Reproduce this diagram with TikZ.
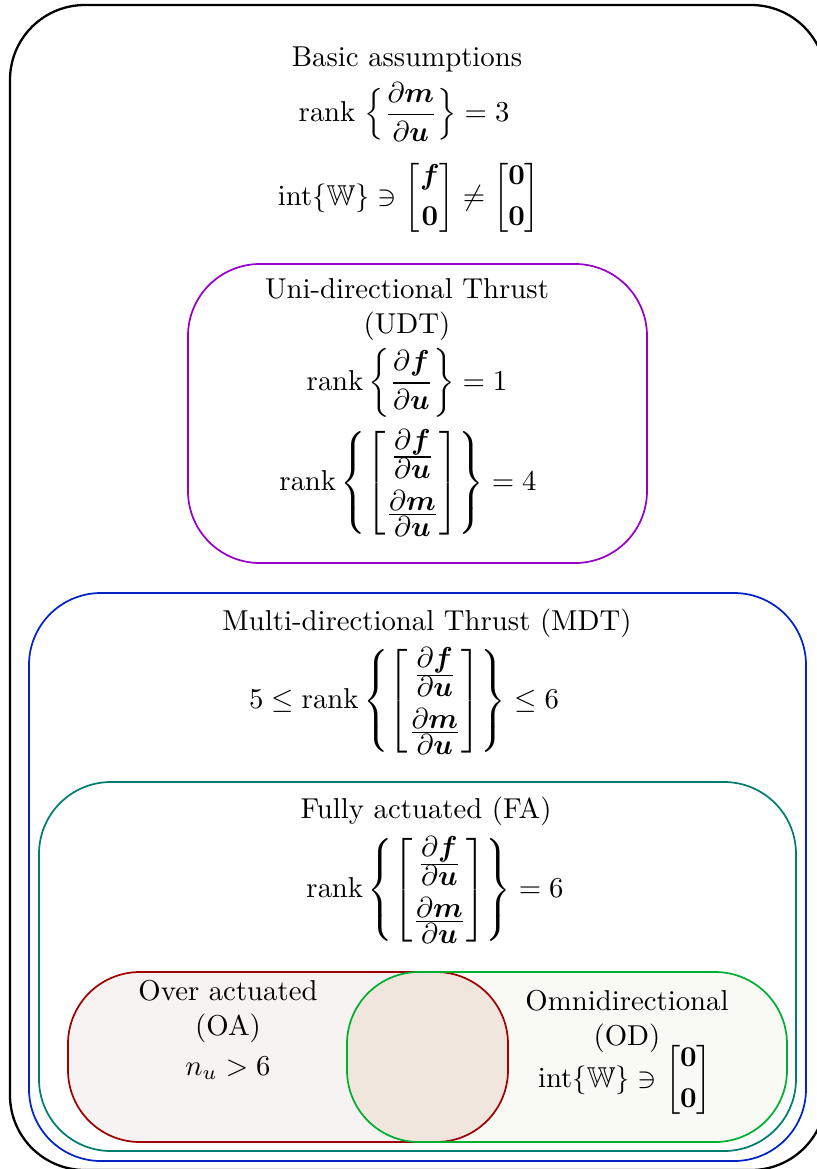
\documentclass[tikz,border=0pt]{standalone}
\usepackage{amsmath,amssymb}
\usepackage{tikz}
\usetikzlibrary{calc,positioning}

\definecolor{udtcol}{RGB}{150,0,200}
\definecolor{mdtcol}{RGB}{0,35,200}
\definecolor{facol}{RGB}{0,125,110}
\definecolor{oacol}{RGB}{160,0,0}
\definecolor{odcol}{RGB}{0,175,50}
\definecolor{oafill}{RGB}{247,243,242}
\definecolor{odfill}{RGB}{250,250,245}
\definecolor{bothfill}{RGB}{240,230,221}

% compact fraction with full size parts, for the stacked Jacobians
\newcommand{\jacfrac}[2]{\frac{\textstyle #1}{\textstyle #2}}
\newcommand{\jacmat}{\begin{bmatrix}\jacfrac{\partial\boldsymbol{f}}{\partial\boldsymbol{u}}\\[5.5pt] \jacfrac{\partial\boldsymbol{m}}{\partial\boldsymbol{u}}\end{bmatrix}}

\begin{document}
\begin{tikzpicture}[x=0.3477pt, y=-0.3477pt,
			setbox/.style={rounded corners=25pt, line width=0.6pt},
			outerbox/.style={rounded corners=26pt, draw=black, line width=0.8pt},
			txt/.style={anchor=base, align=center, inner sep=0pt},
			eq/.style={anchor=center, inner sep=0pt}
		]
		\useasboundingbox (0,0) rectangle (817,1169);
		\clip (0,0) rectangle (817,1169);

		% Basic assumptions
		\draw[outerbox] (10,5) rectangle (826,1170);
		\node[txt] (basic) at (407,66) {Basic assumptions};
		\node[eq] (rankm) at (404,112) {$\displaystyle \operatorname{rank}\,\Big\{\frac{\partial\boldsymbol{m}}{\partial\boldsymbol{u}}\Big\} = 3$};
		\node[eq] (intw) at (409,198) {$\operatorname{int}\{\mathbb{W}\} \ni \begin{bmatrix}\boldsymbol{f}\\[2.5pt] \mathbf{0}\end{bmatrix} \neq \begin{bmatrix}\mathbf{0}\\[2.5pt] \mathbf{0}\end{bmatrix}$};

		% UDT
		\draw[setbox, draw=udtcol] (188,264) rectangle (647,563);
		\node[txt] (udt) at (407,333) {Uni-directional Thrust\\(UDT)};
		\node[eq] (rankf) at (407,383) {$\displaystyle \operatorname{rank}\left\{\frac{\partial\boldsymbol{f}}{\partial\boldsymbol{u}}\right\} = 1$};
		\node[eq] (rankudt) at (408,483) {$\displaystyle \operatorname{rank}\left\{\jacmat\right\} = 4$};

		% MDT
		\draw[setbox, draw=mdtcol] (29,593) rectangle (806,1161);
		\node[txt] (mdt) at (427,630) {Multi-directional Thrust (MDT)};
		\node[eq] (rankmdt) at (404,701) {$\displaystyle 5 \leq \operatorname{rank}\left\{\jacmat\right\} \leq 6$};

		% FA
		\draw[setbox, draw=facol] (39,782) rectangle (796,1151);
		\node[txt] (fa) at (426,818) {Fully actuated (FA)};
		\node[eq] (rankfa) at (435,890) {$\displaystyle \operatorname{rank}\left\{\jacmat\right\} = 6$};

		% OA and OD
		\fill[setbox, oafill] (68,972) rectangle (508,1142);
		\fill[setbox, odfill] (347,972) rectangle (787,1142);
		\begin{scope}
			\clip[rounded corners=25pt] (68,972) rectangle (508,1142);
			\fill[setbox, bothfill] (347,972) rectangle (787,1142);
		\end{scope}
		\draw[setbox, draw=oacol] (68,972) rectangle (508,1142);
		\draw[setbox, draw=odcol] (347,972) rectangle (787,1142);

		\node[txt] (oa) at (228,1035) {Over actuated\\(OA)};
		\node[eq] (nu) at (228,1068) {$n_u > 6$};
		\node[txt] (od) at (627,1045) {Omnidirectional\\(OD)};
		\node[eq] (intod) at (625,1080) {$\operatorname{int}\{\mathbb{W}\} \ni \begin{bmatrix}\mathbf{0}\\[2.5pt] \mathbf{0}\end{bmatrix}$};
	\end{tikzpicture}
\end{document}
